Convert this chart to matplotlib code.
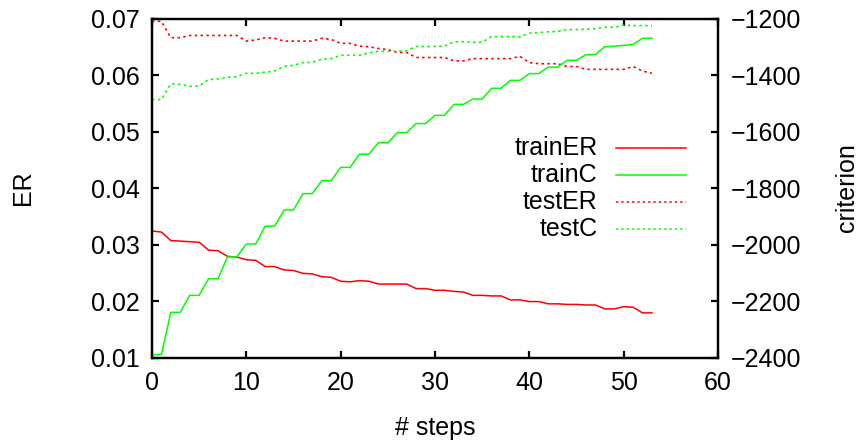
#!/usr/bin/env python3
import numpy as np
import matplotlib
matplotlib.use("Agg")
import matplotlib.pyplot as plt
from matplotlib.lines import Line2D

plt.rcParams['font.family'] = ['Liberation Sans', 'DejaVu Sans']

# values, one point per step (0..53)
steps = list(range(54))

trainER = [0.0324, 0.0322, 0.0307, 0.0306, 0.0305, 0.0304, 0.0290, 0.0289, 0.0279, 0.0278,
           0.0273, 0.0272, 0.0261, 0.0261, 0.0255, 0.0254, 0.0249, 0.0248, 0.0243, 0.0242,
           0.0235, 0.0234, 0.0236, 0.0235, 0.0230, 0.0230, 0.0230, 0.0230, 0.0222, 0.0222,
           0.0219, 0.0219, 0.0217, 0.0216, 0.0210, 0.0210, 0.0209, 0.0209, 0.0202, 0.0202,
           0.0199, 0.0199, 0.0195, 0.0195, 0.0194, 0.0194, 0.0193, 0.0193, 0.0186, 0.0186,
           0.0190, 0.0189, 0.0179, 0.0179]

testER = [0.0695, 0.0695, 0.0666, 0.0666, 0.0670, 0.0670, 0.0670, 0.0670, 0.0670, 0.0670,
          0.0660, 0.0662, 0.0666, 0.0665, 0.0660, 0.0660, 0.0660, 0.0660, 0.0665, 0.0663,
          0.0656, 0.0656, 0.0651, 0.0650, 0.0647, 0.0645, 0.0640, 0.0640, 0.0631, 0.0631,
          0.0631, 0.0631, 0.0625, 0.0625, 0.0629, 0.0629, 0.0629, 0.0629, 0.0629, 0.0633,
          0.0622, 0.0620, 0.0620, 0.0620, 0.0615, 0.0615, 0.0610, 0.0610, 0.0610, 0.0610,
          0.0610, 0.0615, 0.0607, 0.0603]

trainC = [-2390, -2390, -2240, -2240, -2180, -2180, -2121, -2121, -2044, -2044,
          -1998, -1998, -1935, -1935, -1878, -1878, -1820, -1820, -1774, -1774,
          -1727, -1727, -1680, -1680, -1640, -1640, -1604, -1604, -1572, -1572,
          -1543, -1543, -1504, -1504, -1485, -1485, -1447, -1447, -1419, -1419,
          -1395, -1395, -1372, -1372, -1348, -1348, -1328, -1328, -1300, -1298,
          -1295, -1292, -1270, -1270]

testC = [-1487, -1487, -1431, -1433, -1440, -1439, -1416, -1414, -1408, -1406,
         -1394, -1394, -1390, -1386, -1369, -1366, -1356, -1355, -1344, -1342,
         -1330, -1330, -1330, -1322, -1316, -1316, -1316, -1314, -1299, -1299,
         -1299, -1298, -1282, -1282, -1284, -1284, -1264, -1264, -1264, -1265,
         -1252, -1250, -1247, -1246, -1239, -1239, -1238, -1236, -1231, -1231,
         -1224, -1225, -1225, -1226]

RED = '#ff0000'
GREEN = '#00ff00'
DOTS = (0, (1.5, 2))
FS = 18

fig = plt.figure(figsize=(8.6, 4.46), dpi=100)
ax1 = fig.add_axes([0.1767, 0.1984, 0.8349 - 0.1767, 0.9585 - 0.1984])
ax2 = ax1.twinx()

ax1.plot(steps, trainER, color=RED, lw=1.1)
ax1.plot(steps, testER, color=RED, lw=1.2, linestyle=DOTS)
ax2.plot(steps, trainC, color=GREEN, lw=1.1)
ax2.plot(steps, testC, color=GREEN, lw=1.2, linestyle=DOTS)

ax1.set_xlim(0, 60)
ax1.set_ylim(0.01, 0.07)
ax2.set_ylim(-2400, -1200)
ax1.set_xticks(range(0, 61, 10))
ax1.set_yticks(np.arange(0.01, 0.0701, 0.01))
ax1.set_yticklabels(['0.01', '0.02', '0.03', '0.04', '0.05', '0.06', '0.07'])
ax2.set_yticks(range(-2400, -1199, 200))

for a in (ax1, ax2):
    for s in a.spines.values():
        s.set_linewidth(1.6)
ax1.tick_params(axis='x', direction='in', top=True, length=5, width=1.6,
                labelsize=FS, pad=10)
ax1.tick_params(axis='y', direction='in', length=5, width=1.6, labelsize=FS, pad=9)
ax2.tick_params(axis='y', direction='in', length=5, width=1.6, labelsize=FS, pad=9)

ax1.set_xlabel('# steps', fontsize=FS, va='center')
ax1.xaxis.set_label_coords(0.5, -0.208)
ax1.set_ylabel('ER', fontsize=FS, va='center')
ax1.yaxis.set_label_coords(-0.228, 0.5)
ax2.set_ylabel('criterion', fontsize=FS, va='center')
ax2.yaxis.set_label_coords(1.228, 0.5)

# gnuplot-style key: right-aligned text followed by line sample
labels = ['trainER', 'trainC', 'testER', 'testC']
colors = [RED, GREEN, RED, GREEN]
styles = ['-', '-', DOTS, DOTS]
rows = [0.6675, 0.6076, 0.5477, 0.4865]
for lab, c, ls, yy in zip(labels, colors, styles, rows):
    fig.text(0.695, yy, lab, ha='right', va='center', fontsize=FS)
    fig.add_artist(Line2D([0.716, 0.798], [yy, yy], color=c, lw=1.1, linestyle=ls,
                          transform=fig.transFigure))

fig.savefig('out.png', dpi=100)
